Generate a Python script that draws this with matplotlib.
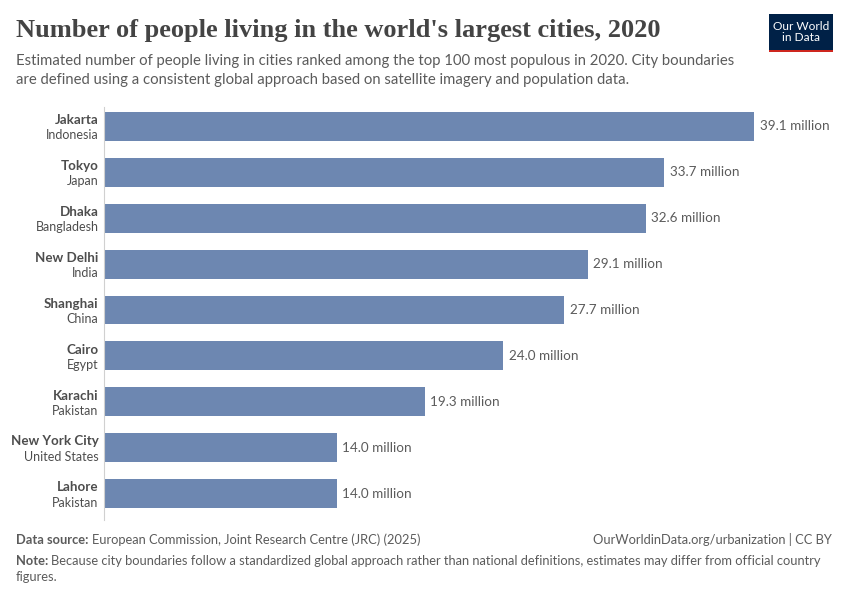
import matplotlib.pyplot as plt
from matplotlib.patches import Rectangle

cities = ['Jakarta', 'Tokyo', 'Dhaka', 'New Delhi', 'Shanghai', 'Cairo',
          'Karachi', 'New York City', 'Lahore']
countries = ['Indonesia', 'Japan', 'Bangladesh', 'India', 'China', 'Egypt',
             'Pakistan', 'United States', 'Pakistan']
population = [39.1, 33.7, 32.6, 29.1, 27.7, 24.0, 19.3, 14.0, 14.0]

plt.rcParams['font.family'] = ['Lato', 'DejaVu Sans']

fig = plt.figure(figsize=(8.5, 6), dpi=100)
W, H = 850, 600
ax = fig.add_axes([104 / W, 1 - 516.5 / H, 650 / W, 413 / H])

bar_color = '#6d87b1'
y = list(range(len(cities)))
ax.barh(y, population, height=0.63, color=bar_color)
ax.set_xlim(0, 39.1)
ax.set_ylim(len(cities) - 0.5, -0.5)

for i, v in enumerate(population):
    ax.annotate(f'{v:.1f} million', xy=(v, i), xytext=(4, 0),
                textcoords='offset points', ha='left', va='center',
                fontsize=9.7, color='#5b5b5b')
    ax.annotate(cities[i], xy=(0, i), xytext=(-4, 4.5), textcoords='offset points',
                ha='right', va='center', fontsize=9.6, fontweight='bold', color='#4d4d4d')
    ax.annotate(countries[i], xy=(0, i), xytext=(-4, -6.5), textcoords='offset points',
                ha='right', va='center', fontsize=9.0, color='#4d4d4d')

for s in ['top', 'right', 'bottom']:
    ax.spines[s].set_visible(False)
ax.spines['left'].set_color('#d0d0d0')
ax.spines['left'].set_bounds(len(cities) - 0.43, -0.43)
ax.set_xticks([])
ax.set_yticks([])

# header
fig.text(16 / W, 1 - 31 / H, "Number of people living in the world's largest cities, 2020",
         family=['Liberation Serif', 'DejaVu Serif'], fontsize=19, fontweight='bold',
         color='#444444', va='center', ha='left')
fig.text(16 / W, 1 - 61 / H, 'Estimated number of people living in cities ranked among the top 100 most populous in 2020. City boundaries',
         fontsize=10.7, color='#5b5b5b', va='center', ha='left')
fig.text(16 / W, 1 - 80 / H, 'are defined using a consistent global approach based on satellite imagery and population data.',
         fontsize=10.7, color='#5b5b5b', va='center', ha='left')

# logo
fig.patches.append(Rectangle((769 / W, 1 - 51 / H), 64 / W, 37 / H, transform=fig.transFigure,
                             facecolor='#002147', edgecolor='none'))
fig.patches.append(Rectangle((769 / W, 1 - 52 / H), 64 / W, 2.5 / H, transform=fig.transFigure,
                             facecolor='#ce261e', edgecolor='none'))
fig.text(801 / W, 1 - 32 / H, 'Our World\nin Data', fontsize=8.6, color='white', ha='center',
         va='center', linespacing=0.95)

# footer
renderer = fig.canvas.get_renderer()


def label_line(ypx, bold, rest):
    t = fig.text(16 / W, 1 - ypx / H, bold, fontsize=9.3, fontweight='bold',
                 color='#5b5b5b', va='center')
    bb = t.get_window_extent(renderer)
    fig.text((bb.x1 + 3) / W, 1 - ypx / H, rest, fontsize=9.3, color='#5b5b5b', va='center')


label_line(540, 'Data source:', 'European Commission, Joint Research Centre (JRC) (2025)')
fig.text(832 / W, 1 - 540 / H, 'OurWorldinData.org/urbanization | CC BY', fontsize=9.3,
         color='#5b5b5b', va='center', ha='right')
label_line(561, 'Note:', 'Because city boundaries follow a standardized global approach rather than national definitions, estimates may differ from official country')
fig.text(16 / W, 1 - 577 / H, 'figures.', fontsize=9.3, color='#5b5b5b', va='center')

fig.savefig('out.png', dpi=100)
